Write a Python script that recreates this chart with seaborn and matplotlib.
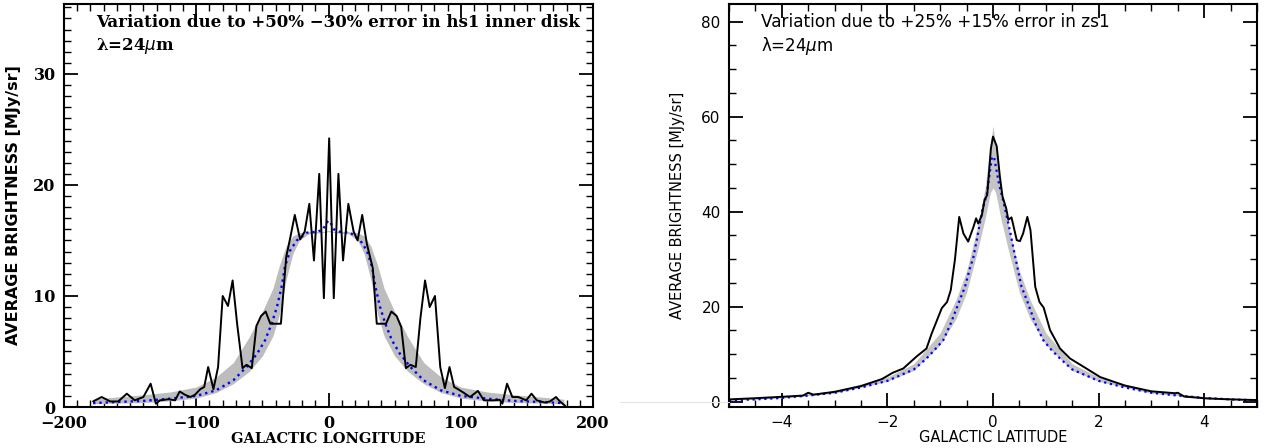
import numpy as np
import pandas as pd
import matplotlib
matplotlib.use('Agg')
import matplotlib.pyplot as plt
import seaborn as sns
from matplotlib.ticker import MultipleLocator
from matplotlib.lines import Line2D

# ---- left panel: galactic longitude profile ----
lon_obs = [-178, -171.5, -165, -159, -152.5, -146.5, -140, -134.5, -130.5, -127.5, -121, -116,
           -112.5, -108.5, -104.5, -101, -97, -94, -91, -87, -83.5, -80, -76, -72.5, -69, -65,
           -62, -58, -54.5, -51, -47.5, -44, -40, -36, -32, -29, -25.5, -21.5, -18, -14.5, -11,
           -7, -3.5, 0.5, 4, 7.5, 11, 15, 19, 22, 25.5, 29, 33.5, 36.5, 40, 43.5, 47.5, 51.5,
           55, 58.5, 62, 66, 69.5, 73, 76.5, 80.5, 84.5, 88, 91.5, 95, 98, 102, 107, 113,
           117.5, 124.5, 129.5, 131.5, 135, 139, 143.5, 149.5, 153.5, 157.5, 163.5, 167.5,
           172, 175, 179]
val_obs = [0.5, 0.9, 0.5, 0.5, 1.2, 0.6, 0.9, 2.1, 0.3, 0.6, 0.7, 0.6,
           1.4, 1.1, 0.9, 1.1, 1.6, 1.8, 3.6, 1.6, 3.6, 10.0, 9.1, 11.4, 7.4, 3.5,
           3.8, 3.5, 7.3, 8.2, 8.6, 7.5, 7.5, 7.5, 13.5, 15.2, 17.3, 15.1, 15.8, 18.3, 13.2,
           21.0, 9.8, 24.2, 9.8, 21.0, 13.2, 18.3, 15.8, 15.0, 17.3, 14.7, 12.5, 7.5, 7.5,
           7.5, 8.6, 8.2, 7.2, 3.5, 3.8, 3.6, 8.0, 11.4, 9.0, 10.0, 3.6, 1.7, 3.6, 1.8, 1.6,
           1.3, 0.9, 1.45, 0.6, 0.6, 0.65, 0.3, 2.1, 0.9, 0.9, 0.6, 1.2, 0.6, 0.4, 0.5,
           0.9, 0.5, 0.1]

lon_mod = [-178, -160, -140, -120, -100, -85, -72, -62, -54, -48, -43, -39, -35.5, -33, -29,
           -24, -16.5, -8, -4, -2, 0, 2, 4, 8, 16.5, 24, 29, 33, 35.5, 39, 43, 48, 54, 62,
           72, 85, 100, 120, 140, 160, 178]
val_mod = [0.35, 0.45, 0.55, 0.75, 1.0, 1.5, 2.4, 3.6, 4.8, 6.0, 7.5, 9.0, 10.8, 12.6, 14.1,
           15.0, 15.7, 15.8, 16.0, 16.5, 16.8, 16.5, 16.0, 15.8, 15.7, 15.0, 14.1, 12.6, 10.8,
           9.0, 7.5, 6.0, 4.8, 3.6, 2.4, 1.5, 1.0, 0.75, 0.55, 0.45, 0.35]

lon_band = [-178, -160, -140, -120, -100, -85, -72, -60, -50, -42, -37, -32, -27, -22, -15, -5,
            0, 5, 15, 22, 27, 32, 37, 42, 50, 60, 72, 85, 100, 120, 140, 160, 178]
band_hi_l = [0.7, 0.9, 1.1, 1.35, 1.8, 2.7, 4.0, 6.3, 8.6, 10.7, 12.8, 14.5, 15.4, 15.7, 15.8,
             15.8, 15.9, 15.8, 15.8, 15.7, 15.4, 14.5, 12.8, 10.7, 8.6, 6.3, 4.0, 2.7, 1.8,
             1.35, 1.1, 0.9, 0.7]
band_lo_l = [0.3, 0.35, 0.4, 0.55, 0.8, 1.3, 2.1, 3.2, 4.6, 6.4, 8.4, 11.5, 13.8, 15.0, 15.6,
             15.7, 15.8, 15.7, 15.6, 15.0, 13.8, 11.5, 8.4, 6.4, 4.6, 3.2, 2.1, 1.3, 0.8,
             0.55, 0.4, 0.35, 0.3]

# ---- right panel: galactic latitude profile ----
lat_obs = [-5.0, -4.5, -4.0, -3.6, -3.5, -3.4, -3.0, -2.5, -2.1, -1.9, -1.7, -1.45, -1.26,
           -1.16, -0.97, -0.87, -0.8, -0.72, -0.64, -0.56, -0.47, -0.37, -0.32, -0.28, -0.21,
           -0.16, -0.11, -0.04, 0.0, 0.07, 0.13, 0.18, 0.25, 0.29, 0.35, 0.45, 0.51, 0.57,
           0.65, 0.71, 0.8, 0.88, 0.96, 1.08, 1.27, 1.46, 1.71, 2.03, 2.5, 3.0, 3.45, 3.5,
           3.62, 4.05, 4.5, 5.0]
lat_val = [0.5, 0.75, 1.05, 1.3, 1.9, 1.5, 2.1, 3.3, 4.8, 6.1, 7.0, 9.5, 11.2,
           14.4, 19.7, 21.0, 23.5, 30.0, 38.9, 35.4, 33.7, 36.8, 38.6, 37.5, 39.3,
           42.5, 43.5, 53.3, 55.8, 53.8, 47.4, 43.2, 40.7, 38.3, 38.8, 34.0, 33.8, 35.4,
           38.9, 36.1, 24.2, 21.0, 19.8, 15.1, 11.2, 9.1, 7.4, 5.2, 3.4, 2.2, 1.8, 1.9,
           1.1, 0.7, 0.5, 0.36]

lat_mod = [-5, -4.5, -4, -3.5, -3, -2.5, -2.0, -1.5, -1.26, -1.1, -0.94, -0.8, -0.63, -0.53,
           -0.44, -0.37, -0.3, -0.2, -0.12, -0.07, -0.02, 0.02, 0.07, 0.12, 0.2, 0.32, 0.42,
           0.54, 0.64, 0.8, 0.95, 1.1, 1.27, 1.5, 2.0, 2.5, 3.0, 3.5, 4.0, 4.5, 5.0]
lat_mod_val = [0.3, 0.5, 0.8, 1.3, 1.9, 3.0, 4.4, 6.8, 9.1, 11.0, 13.0, 16.5, 21.4, 24.2,
               28.0, 30.5, 34.5, 40.5, 43.5, 47.5, 51.5, 51.5, 48.5, 45.5, 42.0, 36.0, 30.5,
               24.2, 21.4, 16.5, 13.0, 11.0, 9.1, 6.8, 4.4, 3.0, 1.9, 1.3, 0.8, 0.5, 0.3]

lat_band = [-5, -4, -3, -2, -1.5, -1.0, -0.7, -0.5, -0.3, -0.15, -0.05, 0, 0.05, 0.15, 0.3,
            0.5, 0.7, 1.0, 1.5, 2, 3, 4, 5]
band_lo_r = [0.3, 0.8, 1.8, 4.3, 6.6, 12, 17.5, 23, 31.5, 38.5, 44, 45, 44, 38.5, 31.5, 23,
             17.5, 12, 6.6, 4.3, 1.8, 0.8, 0.3]
band_hi_r = [0.5, 1.1, 2.3, 5.2, 8.0, 14.5, 21.5, 27.5, 36.5, 45, 54, 58, 54, 45, 36.5, 27.5,
             21.5, 14.5, 8.0, 5.2, 2.3, 1.1, 0.5]

lon_ticks = [-200, -100, 0, 100, 200]
lon_ticklabels = ['\u2212200', '\u2212100', '0', '100', '200']
lat_ticks = [-4, -2, 0, 2, 4]
lat_ticklabels = ['\u22124', '\u22122', '0', '2', '4']

sns.set_style('ticks')
plt.rcParams['font.family'] = ['DejaVu Sans']
plt.rcParams['text.color'] = 'black'
plt.rcParams['axes.labelcolor'] = 'black'
plt.rcParams['xtick.color'] = 'black'
plt.rcParams['ytick.color'] = 'black'
plt.rcParams['xtick.labelcolor'] = 'black'
plt.rcParams['ytick.labelcolor'] = 'black'

fig = plt.figure(figsize=(12.66, 4.48), dpi=100)
ax1 = fig.add_axes([64 / 1266, 41 / 448, 529 / 1266, 403 / 448])
ax2 = fig.add_axes([729 / 1266, 41 / 448, 528 / 1266, 403 / 448])

# faint stray line left of right panel
fig.add_artist(Line2D([0.49, 0.576], [0.1027, 0.1027], color='#e4e4e4', lw=0.8))

SERIF = 'DejaVu Serif'

# left
ax1.fill_between(lon_band, band_lo_l, band_hi_l, color='#bdbdbd', lw=0)
sns.lineplot(x=lon_mod, y=val_mod, ax=ax1, color='blue', lw=1.7, linestyle=':',
             estimator=None, sort=False)
sns.lineplot(x=lon_obs, y=val_obs, ax=ax1, color='black', lw=1.4,
             estimator=None, sort=False)
ax1.set_xlim(-200, 200)
ax1.set_ylim(0, 36.3)
ax1.set_xticks(lon_ticks, labels=lon_ticklabels, fontfamily=SERIF, fontweight='bold', fontsize=11.5)
ax1.set_yticks([0, 10, 20, 30], labels=['0', '10', '20', '30'], fontfamily=SERIF,
               fontweight='bold', fontsize=11.5)
ax1.xaxis.set_minor_locator(MultipleLocator(10))
ax1.yaxis.set_minor_locator(MultipleLocator(1))
ax1.set_xlabel('GALACTIC LONGITUDE', fontfamily=SERIF, fontweight='bold', fontsize=10.5, labelpad=0)
ax1.set_ylabel('AVERAGE BRIGHTNESS [MJy/sr]', fontweight='bold', fontsize=11.5, labelpad=9)
ax1.text(0.06, 0.955, 'Variation due to +50% \u221230% error in hs1 inner disk',
         transform=ax1.transAxes, fontfamily=SERIF, fontweight='bold', fontsize=12, va='center')
ax1.text(0.06, 0.895, '\u03bb=24$\\mu$m', transform=ax1.transAxes, fontfamily=SERIF,
         fontweight='bold', fontsize=12, va='center')

# right
ax2.fill_between(lat_band, band_lo_r, band_hi_r, color='#c4c4c4', lw=0)
sns.lineplot(x=lat_mod, y=lat_mod_val, ax=ax2, color='blue', lw=1.6, linestyle=':',
             estimator=None, sort=False)
sns.lineplot(x=lat_obs, y=lat_val, ax=ax2, color='black', lw=1.4,
             estimator=None, sort=False)
ax2.set_xlim(-5, 5)
ax2.set_ylim(-1.1, 83.7)
ax2.set_xticks(lat_ticks, labels=lat_ticklabels, fontsize=11)
ax2.set_yticks([0, 20, 40, 60, 80], labels=['0', '20', '40', '60', '80'], fontsize=11)
ax2.xaxis.set_minor_locator(MultipleLocator(0.5))
ax2.yaxis.set_minor_locator(MultipleLocator(5))
ax2.set_xlabel('GALACTIC LATITUDE', fontsize=10.5, labelpad=0)
ax2.set_ylabel('AVERAGE BRIGHTNESS [MJy/sr]', fontsize=10.5, labelpad=12)
ax2.text(0.06, 0.955, 'Variation due to +25% +15% error in zs1', transform=ax2.transAxes,
         fontsize=12.2, va='center')
ax2.text(0.06, 0.895, '\u03bb=24$\\mu$m', transform=ax2.transAxes, fontsize=12, va='center')

for ax in (ax1, ax2):
    for s in ax.spines.values():
        s.set_linewidth(1.5)
        s.set_color('black')
    ax.tick_params(which='both', direction='in', top=True, right=True, color='black',
                   labelcolor='black')
    ax.tick_params(which='major', length=10, width=1.3, pad=6)
    ax.tick_params(which='minor', length=5, width=1.0)

fig.savefig('out.png', dpi=100)
